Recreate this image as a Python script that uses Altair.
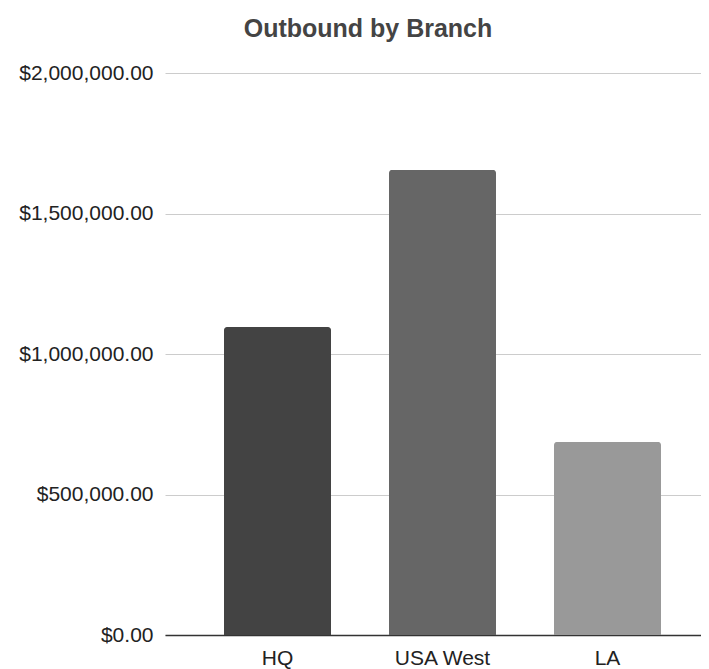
import altair as alt
import pandas as pd

branches = ["HQ", "USA West", "LA"]
values = [1096000, 1655000, 687000]
colors = ["#434343", "#666666", "#999999"]
y_ticks = [0, 500000, 1000000, 1500000, 2000000]

df = pd.DataFrame({"branch": branches, "value": values})

FONT = "Liberation Sans"

chart = alt.Chart(df).mark_bar(
    cornerRadiusTopLeft=3, cornerRadiusTopRight=3
).encode(
    x=alt.X(
        "branch:N",
        sort=branches,
        title=None,
        scale=alt.Scale(paddingInner=0.3515, paddingOuter=0.3, align=0.596),
        axis=alt.Axis(
            labelAngle=0, ticks=False, grid=False,
            domainColor="#333333", domainWidth=1.5,
            labelFontSize=21, labelColor="#222222", labelFont=FONT,
            labelPadding=12,
        ),
    ),
    y=alt.Y(
        "value:Q",
        title=None,
        scale=alt.Scale(domain=[0, 2000000], nice=False),
        axis=alt.Axis(
            values=y_ticks, format="$,.2f", ticks=False, domain=False,
            gridColor="#cccccc", gridWidth=1,
            labelFontSize=21, labelColor="#222222", labelFont=FONT,
            labelPadding=12,
        ),
    ),
    color=alt.Color("branch:N", sort=branches,
                    scale=alt.Scale(domain=branches, range=colors), legend=None),
).properties(
    width=536,
    height=562,
    title=alt.TitleParams(
        "Outbound by Branch", font=FONT, fontSize=25, fontWeight="bold",
        color="#444444", anchor="middle", frame="group", dx=-65, offset=20,
    ),
    autosize=alt.AutoSizeParams(type="none"),
    padding={"left": 157, "top": 65, "right": 0, "bottom": 34},
).configure_view(stroke=None)

chart.save("out.html", embed_options={"renderer": "svg", "actions": False})
